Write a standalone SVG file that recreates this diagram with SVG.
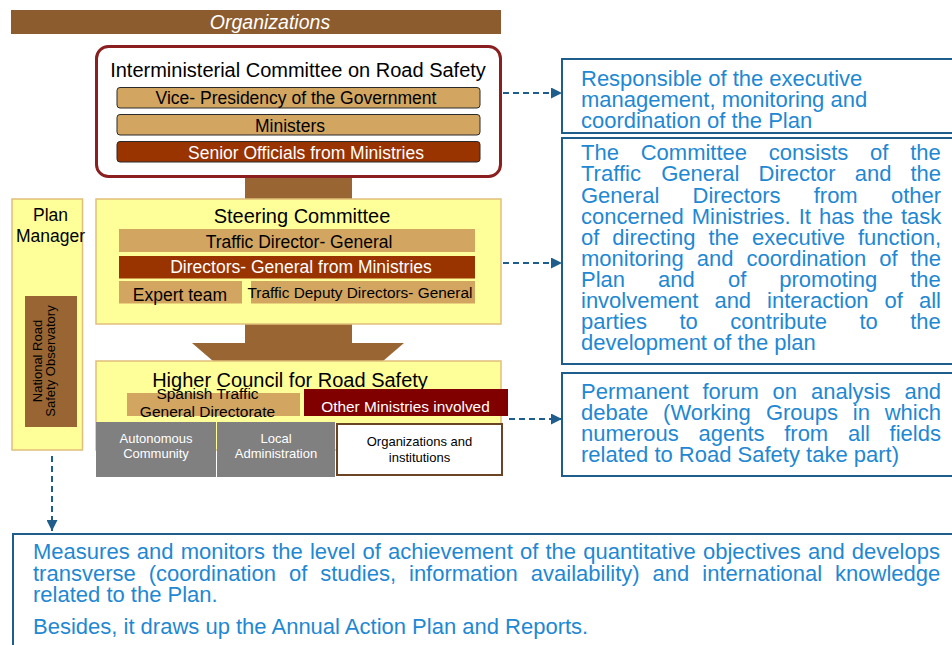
<svg xmlns="http://www.w3.org/2000/svg" width="952" height="645" viewBox="0 0 952 645">
<defs>
<style>
text{font-family:"Liberation Sans",Arial,sans-serif;}
.blk{fill:#000;}
.wht{fill:#fff;}
.blue{fill:#1F88D2;font-size:22px;}
.tan{fill:#D2A661;}
.tanb{fill:#D2A661;stroke:#2a2a2a;stroke-width:1;}
.yel{fill:#FFFF99;stroke:#E0BF7A;stroke-width:1.5;}
.bbox{fill:#fff;stroke:#1F5E8C;stroke-width:2;}
.dash{fill:none;stroke:#1F5E8C;stroke-width:2;stroke-dasharray:6 4;}
.gray{fill:#808080;}
</style>
<marker id="ah" viewBox="0 0 10 10" refX="10" refY="5" markerWidth="11" markerHeight="11" markerUnits="userSpaceOnUse" orient="auto">
<path d="M0,0 L10,5 L0,10 z" fill="#1F5E8C"/>
</marker>
</defs>
<rect width="952" height="645" fill="#fff"/>

<g id="title">
<rect x="11" y="10" width="490" height="24" fill="#8C5B2E"/>
<text x="270" y="29" text-anchor="middle" class="wht" font-size="19.5" font-style="italic">Organizations</text>
</g>

<g id="connectors">
<rect x="245" y="170" width="107" height="35" fill="#996633"/>
<polygon points="245,320 352,320 352,343 404,343 298,434 192,343 245,343" fill="#996633"/>
<line class="dash" x1="503" y1="93" x2="562" y2="93" marker-end="url(#ah)"/>
<line class="dash" x1="503" y1="263" x2="562" y2="263" marker-end="url(#ah)"/>
<line class="dash" x1="509" y1="419" x2="562" y2="419" marker-end="url(#ah)"/>
<line class="dash" x1="52" y1="456" x2="52" y2="531" marker-end="url(#ah)"/>
</g>

<g id="interministerial">
<rect x="96.5" y="46.5" width="404" height="130" rx="12" fill="#fff" stroke="#8B1E1E" stroke-width="3"/>
<text x="298" y="77" text-anchor="middle" class="blk" font-size="20">Interministerial Committee on Road Safety</text>
<rect class="tanb" x="117" y="87.5" width="363" height="20.5" rx="3"/>
<text x="296" y="104" text-anchor="middle" class="blk" font-size="17.5">Vice- Presidency of the Government</text>
<rect class="tanb" x="117" y="114.5" width="363" height="20.5" rx="3"/>
<text x="290" y="131.5" text-anchor="middle" class="blk" font-size="17.5">Ministers</text>
<rect x="117" y="141.5" width="363" height="20.5" rx="3" fill="#993300" stroke="#2a2a2a" stroke-width="1"/>
<text x="306" y="159" text-anchor="middle" class="wht" font-size="17.5">Senior Officials from Ministries</text>
</g>

<g id="steering">
<rect class="yel" x="96" y="199" width="405" height="125"/>
<text x="302" y="223" text-anchor="middle" class="blk" font-size="20">Steering Committee</text>
<rect class="tan" x="119" y="229" width="356" height="23"/>
<text x="299" y="248" text-anchor="middle" class="blk" font-size="17.5">Traffic Director- General</text>
<rect x="119" y="256" width="356" height="22.5" fill="#993300"/>
<text x="301" y="272.5" text-anchor="middle" class="wht" font-size="17.5">Directors- General from Ministries</text>
<rect class="tan" x="119" y="281" width="123" height="22.5"/>
<text x="180" y="300.5" text-anchor="middle" class="blk" font-size="17.5">Expert team</text>
<rect class="tan" x="251" y="281" width="224" height="22.5"/>
<text x="360" y="298" text-anchor="middle" class="blk" font-size="15.4">Traffic Deputy Directors- General</text>
</g>

<g id="plan-manager">
<rect class="yel" x="12" y="199" width="70.5" height="251"/>
<text x="50.5" y="221" text-anchor="middle" class="blk" font-size="17.5">Plan</text>
<text x="50.5" y="242" text-anchor="middle" class="blk" font-size="17.5">Manager</text>
<rect x="25" y="296" width="52" height="131" fill="#996633"/>
<text transform="translate(41.5,361) rotate(-90)" text-anchor="middle" class="blk" font-size="13">National Road</text>
<text transform="translate(54.5,361) rotate(-90)" text-anchor="middle" class="blk" font-size="13">Safety Observatory</text>
</g>

<g id="higher-council">
<rect class="yel" x="96" y="361" width="405" height="89"/>
<text x="290" y="387" text-anchor="middle" class="blk" font-size="20">Higher Council for Road Safety</text>
<rect class="tan" x="127" y="393" width="173" height="23"/>
<text x="207.5" y="398.5" text-anchor="middle" class="blk" font-size="15.5">Spanish Traffic</text>
<text x="207.5" y="417" text-anchor="middle" class="blk" font-size="15.5">General Directorate</text>
<rect x="304" y="389" width="204" height="27" fill="#800000"/>
<text x="405.5" y="412" text-anchor="middle" class="wht" font-size="15.4">Other Ministries involved</text>
</g>

<g id="autonomous-community">
<rect class="gray" x="96" y="422" width="120" height="55"/>
<text x="156" y="443" text-anchor="middle" class="wht" font-size="13">Autonomous</text>
<text x="156" y="458" text-anchor="middle" class="wht" font-size="13">Community</text>
</g>

<g id="local-administration">
<rect class="gray" x="217" y="422" width="118" height="55"/>
<text x="276" y="443" text-anchor="middle" class="wht" font-size="13">Local</text>
<text x="276" y="458" text-anchor="middle" class="wht" font-size="13">Administration</text>
</g>

<g id="organizations-institutions">
<rect x="337" y="424" width="165" height="51" fill="#fff" stroke="#6B4423" stroke-width="2"/>
<text x="419.5" y="446" text-anchor="middle" class="blk" font-size="13">Organizations and</text>
<text x="419.5" y="462" text-anchor="middle" class="blk" font-size="13">institutions</text>
</g>

<g id="note-interministerial">
<rect class="bbox" x="562" y="59" width="400" height="74"/>
<text class="blue" x="581" y="86">Responsible of the executive</text>
<text class="blue" x="581" y="107">management, monitoring and</text>
<text class="blue" x="581" y="128">coordination of the Plan</text>
</g>

<g id="note-steering">
<rect class="bbox" x="562" y="138" width="400" height="226"/>
<text class="blue" y="160"><tspan x="581">The</tspan><tspan x="640.7">Committee</tspan><tspan x="768.8">consists</tspan><tspan x="870.1">of</tspan><tspan x="910.2">the</tspan></text>
<text class="blue" y="181"><tspan x="581">Traffic</tspan><tspan x="661.2">General</tspan><tspan x="758.6">Director</tspan><tspan x="854.7">and</tspan><tspan x="910.5">the</tspan></text>
<text class="blue" y="203"><tspan x="581">General</tspan><tspan x="692.5">Directors</tspan><tspan x="813.7">from</tspan><tspan x="890.9">other</tspan></text>
<text class="blue" y="224"><tspan x="581">concerned</tspan><tspan x="691.7">Ministries.</tspan><tspan x="798.7">It</tspan><tspan x="818.9">has</tspan><tspan x="862.4">the</tspan><tspan x="901">task</tspan></text>
<text class="blue" y="245"><tspan x="581">of</tspan><tspan x="612.3">directing</tspan><tspan x="708.4">the</tspan><tspan x="752">executive</tspan><tspan x="857.9">function,</tspan></text>
<text class="blue" y="266"><tspan x="581">monitoring</tspan><tspan x="696.7">and</tspan><tspan x="746.4">coordination</tspan><tspan x="879.2">of</tspan><tspan x="910.5">the</tspan></text>
<text class="blue" y="287"><tspan x="581">Plan</tspan><tspan x="658.1">and</tspan><tspan x="727.9">of</tspan><tspan x="779.3">promoting</tspan><tspan x="910.2">the</tspan></text>
<text class="blue" y="308"><tspan x="581">involvement</tspan><tspan x="714.4">and</tspan><tspan x="767.1">interaction</tspan><tspan x="884.6">of</tspan><tspan x="918.9">all</tspan></text>
<text class="blue" y="329"><tspan x="581">parties</tspan><tspan x="679.5">to</tspan><tspan x="730.3">contribute</tspan><tspan x="859.4">to</tspan><tspan x="910.2">the</tspan></text>
<text class="blue" x="581" y="350">development of the plan</text>
</g>

<g id="note-higher-council">
<rect class="bbox" x="562" y="373" width="400" height="103"/>
<text class="blue" y="399"><tspan x="581">Permanent</tspan><tspan x="702.5">forum</tspan><tspan x="772.6">on</tspan><tspan x="811">analysis</tspan><tspan x="904.4">and</tspan></text>
<text class="blue" y="420"><tspan x="581">debate</tspan><tspan x="663.1">(Working</tspan><tspan x="765.9">Groups</tspan><tspan x="852.8">in</tspan><tspan x="884.7">which</tspan></text>
<text class="blue" y="441"><tspan x="581">numerous</tspan><tspan x="698.5">agents</tspan><tspan x="784.2">from</tspan><tspan x="847.9">all</tspan><tspan x="889.6">fields</tspan></text>
<text class="blue" x="581" y="462">related to Road Safety take part)</text>
</g>

<g id="note-plan-manager">
<rect class="bbox" x="13" y="534" width="960" height="130"/>
<text class="blue" x="33" y="559" textLength="907" lengthAdjust="spacing" word-spacing="1">Measures and monitors the level of achievement of the quantitative objectives and develops</text>
<text class="blue" y="581"><tspan x="33">transverse</tspan><tspan x="148.7">(coordination</tspan><tspan x="288.9">of</tspan><tspan x="320.2">studies,</tspan><tspan x="409">information</tspan><tspan x="530.8">availability)</tspan><tspan x="652.6">and</tspan><tspan x="702.3">international</tspan><tspan x="835.1">knowledge</tspan></text>
<text class="blue" x="33" y="602">related to the Plan.</text>
<text class="blue" x="33" y="634">Besides, it draws up the Annual Action Plan and Reports.</text>
</g>
</svg>
